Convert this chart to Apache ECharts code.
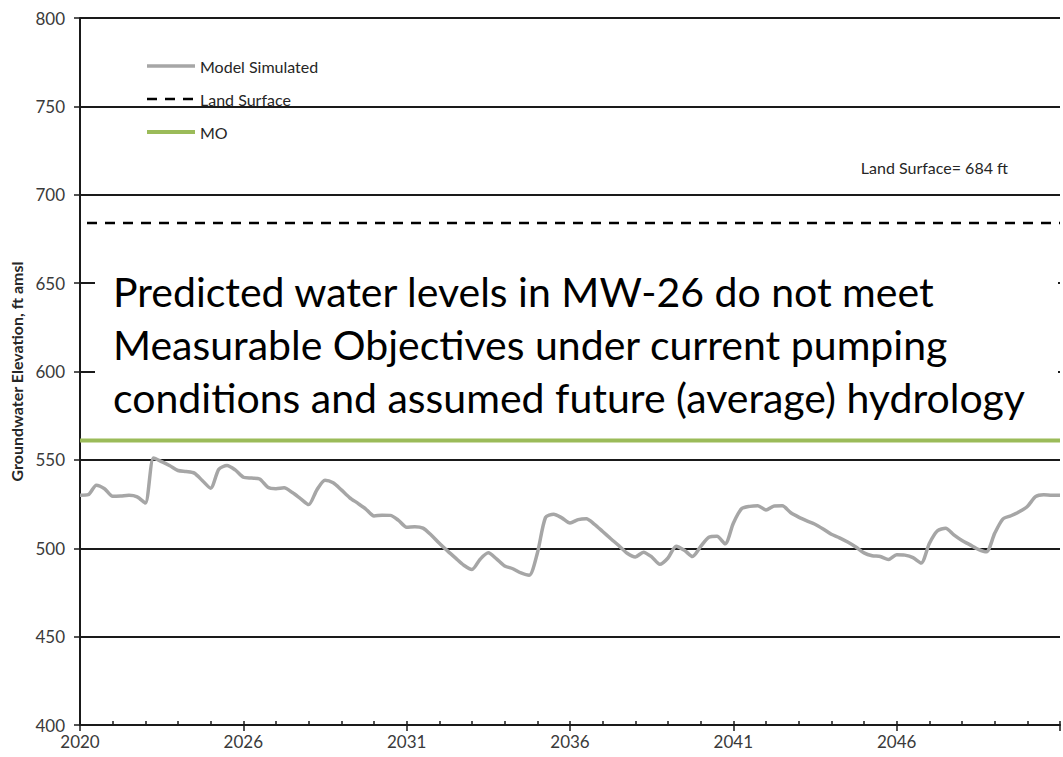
<!DOCTYPE html>
<html>
<head>
<meta charset="utf-8">
<script src="https://cdn.jsdelivr.net/npm/echarts@6/dist/echarts.min.js"></script>
<style>
  html, body { margin: 0; padding: 0; background: #ffffff; }
  #chart { width: 1063px; height: 757px; }
</style>
</head>
<body>
<div id="chart"></div>
<script>
// MW-26 simulated groundwater elevation (ft amsl), one value per quarter step
const simulated = [
  530, 530.3, 535.7, 533.7, 529.4, 529.6, 530, 529.1, 525.6, 551,
  549, 546.7, 544, 543.4, 542.5, 538.2, 534, 544.7, 546.8, 544.3,
  540.2, 539.7, 539.2, 534.5, 533.7, 534.2, 531.5, 528.1, 524.7, 533,
  538.5, 537, 533, 528.7, 525.5, 522.2, 518.3, 518.7, 518.6, 515.8,
  511.9, 512.2, 511.4, 507.5, 502.8, 498.5, 494.4, 490.4, 488, 493.8,
  497.4, 494, 490, 488.4, 486, 484.7, 497.2, 517.4, 519.3, 517.2,
  514.3, 516.2, 516.7, 513.5, 509.5, 505.4, 501.4, 497.2, 495.1, 497.8,
  495.1, 490.9, 494.5, 501.2, 498.9, 495.3, 501, 506.2, 506.8, 502.5,
  514.2, 522.3, 523.7, 524.1, 521.6, 523.9, 524, 520.2, 517.6, 515.5,
  513.6, 510.9, 507.9, 505.9, 503.5, 500.7, 497.4, 495.8, 495.3, 493.6,
  496.3, 496.1, 494.7, 491.6, 502.7, 509.9, 511.3, 507.6, 504.4, 501.9,
  499.4, 498, 508.4, 516.5, 518.4, 520.6, 523.6, 529.2, 530.3, 530,
  530
];

// Reference elevations (ft amsl)
const landSurface = 684;
const measurableObjective = 561;

// Labels on the major time ticks (every 20 steps)
const yearLabels = ['2020', '2026', '2031', '2036', '2041', '2046'];

const seriesNames = ['Model Simulated', 'Land Surface', 'MO'];
const noteLines = [
  'Predicted water levels in MW-26 do not meet',
  'Measurable Objectives under current pumping',
  'conditions and assumed future (average) hydrology'
];
const landSurfaceNote = 'Land Surface= ' + landSurface + ' ft';

const lastStep = simulated.length - 1;
const FONT = 'Lato, "Noto Sans", sans-serif';
const INK = '#1a1a1a';

const chart = echarts.init(document.getElementById('chart'), null, { renderer: 'svg' });

chart.setOption({
  backgroundColor: '#ffffff',
  animation: false,
  grid: { left: 80, top: 18, width: 994.5, height: 707, containLabel: false },
  legend: {
    data: [
      { name: seriesNames[0] },
      { name: seriesNames[1], lineStyle: { dashOffset: 0 } },
      { name: seriesNames[2] }
    ],
    orient: 'vertical',
    left: 145,
    top: 58,
    padding: 0,
    itemWidth: 48,
    itemHeight: 16,
    itemGap: 17,
    selectedMode: false,
    itemStyle: { opacity: 0 },
    lineStyle: { width: 'inherit' },
    textStyle: { fontFamily: FONT, fontSize: 16, color: '#262626', lineHeight: 16 }
  },
  xAxis: [
    {
      type: 'value',
      position: 'bottom',
      min: 0,
      max: lastStep,
      interval: 20,
      axisLine: { show: true, lineStyle: { color: INK, width: 2 } },
      axisTick: { show: true, inside: false, length: 6, lineStyle: { color: INK, width: 1.5 } },
      axisLabel: {
        margin: 8,
        fontFamily: FONT,
        fontSize: 17,
        color: '#3a3a3a',
        formatter: v => yearLabels[Math.round(v / 20)] || ''
      },
      splitLine: { show: false }
    },
    {
      type: 'value',
      position: 'bottom',
      min: 0,
      max: lastStep,
      interval: 4,
      axisLine: { show: false },
      axisTick: { show: true, inside: true, length: 4, lineStyle: { color: INK, width: 1.5 } },
      axisLabel: { show: false },
      splitLine: { show: false }
    }
  ],
  yAxis: {
    type: 'value',
    min: 400,
    max: 800,
    interval: 50,
    name: 'Groundwater Elevation, ft amsl',
    nameLocation: 'middle',
    nameGap: 56,
    nameTextStyle: { fontFamily: FONT, fontSize: 16, fontWeight: 'bold', color: '#262626' },
    axisLine: { show: true, lineStyle: { color: INK, width: 2 } },
    axisTick: { show: true, inside: false, length: 6, lineStyle: { color: INK, width: 1.5 } },
    axisLabel: { margin: 15, fontFamily: FONT, fontSize: 17, color: '#3a3a3a' },
    splitLine: { show: true, lineStyle: { color: INK, width: 2 } }
  },
  series: [
    {
      name: seriesNames[0],
      type: 'line',
      xAxisIndex: 0,
      data: simulated.map((v, i) => [i, v]),
      symbol: 'none',
      smooth: 0.25,
      lineStyle: { color: '#a6a6a6', width: 3.5 },
      itemStyle: { color: '#a6a6a6' },
      z: 4
    },
    {
      name: seriesNames[1],
      type: 'line',
      xAxisIndex: 0,
      data: [[0, landSurface], [lastStep, landSurface]],
      symbol: 'none',
      lineStyle: { color: '#000000', width: 2.5, type: [10, 8], dashOffset: 11 },
      itemStyle: { color: '#000000' },
      z: 3
    },
    {
      name: seriesNames[2],
      type: 'line',
      xAxisIndex: 0,
      data: [[0, measurableObjective], [lastStep, measurableObjective]],
      symbol: 'none',
      lineStyle: { color: '#9bbb59', width: 4 },
      itemStyle: { color: '#9bbb59' },
      z: 3
    }
  ],
  graphic: [
    {
      type: 'rect',
      z: 1,
      silent: true,
      shape: { x: 95, y: 240, width: 963, height: 190 },
      style: { fill: '#ffffff' }
    },
    {
      type: 'text',
      z: 5,
      silent: true,
      style: {
        x: 1008, y: 167, text: landSurfaceNote,
        font: '16px ' + FONT, fill: '#262626',
        align: 'right', verticalAlign: 'middle'
      }
    },
    ...noteLines.map((line, k) => ({
      type: 'text',
      z: 5,
      silent: true,
      style: {
        x: 113, y: 291 + k * 53.3, text: line,
        font: '41px ' + FONT, fill: '#000000',
        align: 'left', verticalAlign: 'middle'
      }
    }))
  ]
});
</script>
</body>
</html>
